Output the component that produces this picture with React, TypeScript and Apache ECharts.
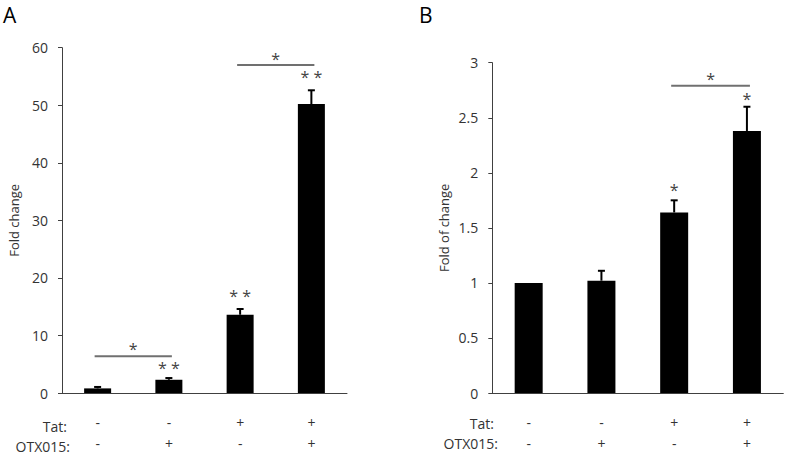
import React, { useEffect, useRef } from "react";
import * as echarts from "echarts";

// Panel A data
const tatSigns = ["-", "-", "+", "+"];
const otxSigns = ["-", "+", "-", "+"];
const categories = ["Ctrl", "OTX015", "Tat", "Tat+OTX015"];
const valuesA = [0.8, 2.3, 13.6, 50.2];
const errorsA = [0.25, 0.3, 1.0, 2.4];
const yTicksA = { min: 0, max: 60, interval: 10 };

// Panel B data
const valuesB = [1.0, 1.02, 1.64, 2.38];
const errorsB = [0, 0.09, 0.11, 0.22];
const yTicksB = { min: 0, max: 3, interval: 0.5 };

// significance annotations (in data units)
const sigBarsA = [
  { from: 0, to: 1, y: 6.4, label: "*", labelY: 8.1 },
  { from: 2, to: 3, y: 57.0, label: "*", labelY: 58.6 },
];
const starsA = [
  { cat: 1, y: 4.8, label: "* *" },
  { cat: 2, y: 17.3, label: "* *" },
  { cat: 3, y: 55.5, label: "* *" },
];
const sigBarsB = [{ from: 2, to: 3, y: 2.79, label: "*", labelY: 2.875 }];
const starsB = [
  { cat: 2, y: 1.87, label: "*" },
  { cat: 3, y: 2.7, label: "*" },
];

const FONT = "'Open Sans', 'DejaVu Sans', sans-serif";
const TXT = "#333";

function errSeries(idx: number, vals: number[], errs: number[]) {
  return {
    type: "custom",
    xAxisIndex: idx,
    yAxisIndex: idx,
    silent: true,
    data: vals.map((v, i) => [i, v, errs[i]]),
    renderItem: (params: any, api: any) => {
      const x = api.value(0);
      const v = api.value(1);
      const e = api.value(2);
      if (!e) return { type: "group", children: [] };
      const p0 = api.coord([x, v]);
      const p1 = api.coord([x, v + e]);
      return {
        type: "group",
        children: [
          {
            type: "line",
            shape: { x1: p0[0], y1: p0[1], x2: p1[0], y2: p1[1] },
            style: { stroke: "#000", lineWidth: 2 },
          },
          {
            type: "line",
            shape: { x1: p1[0] - 3.5, y1: p1[1], x2: p1[0] + 3.5, y2: p1[1] },
            style: { stroke: "#000", lineWidth: 2 },
          },
        ],
      };
    },
  };
}

function starText(x: number, y: number, text: string) {
  return {
    type: "text",
    x,
    y: y + 3,
    style: {
      text,
      fill: "#444",
      font: `16px ${FONT}`,
      textAlign: "center",
      textVerticalAlign: "middle",
    },
  };
}

function sigSeries(idx: number, bars: any[], stars: any[]) {
  const items = [
    ...bars.map((b) => ({ kind: "bar", ...b })),
    ...stars.map((s) => ({ kind: "star", ...s })),
  ];
  return {
    type: "custom",
    xAxisIndex: idx,
    yAxisIndex: idx,
    silent: true,
    data: items.map((_, i) => [i]),
    renderItem: (params: any, api: any) => {
      const it = items[params.dataIndex];
      if (it.kind === "bar") {
        const a = api.coord([it.from, it.y]);
        const b = api.coord([it.to, it.y]);
        const la = api.coord([it.from, it.labelY]);
        const lb = api.coord([it.to, it.labelY]);
        return {
          type: "group",
          children: [
            {
              type: "line",
              shape: { x1: a[0] - 3, y1: a[1], x2: b[0] + 3, y2: b[1] },
              style: { stroke: "#707070", lineWidth: 2 },
            },
            starText((la[0] + lb[0]) / 2, la[1], it.label),
          ],
        };
      }
      const p = api.coord([it.cat, it.y]);
      return starText(p[0], p[1], it.label);
    },
  };
}

function yAxis(idx: number, ticks: any, name: string) {
  return {
    type: "value",
    gridIndex: idx,
    min: ticks.min,
    max: ticks.max,
    interval: ticks.interval,
    name,
    nameLocation: "middle",
    nameGap: 42,
    nameTextStyle: { color: TXT, fontSize: 13, fontFamily: FONT },
    axisLine: { show: true, lineStyle: { color: "#404040", width: 1 } },
    axisTick: { show: true, length: 4, lineStyle: { color: "#404040" } },
    axisLabel: { color: TXT, fontSize: 14, fontFamily: FONT, margin: 14 },
    splitLine: { show: false },
  };
}

function xAxis(idx: number) {
  return {
    type: "category",
    gridIndex: idx,
    data: categories,
    axisLine: { show: true, lineStyle: { color: "#404040", width: 1 } },
    axisTick: { show: false },
    axisLabel: {
      color: TXT,
      fontSize: 14,
      fontFamily: FONT,
      lineHeight: 21,
      margin: 19,
      formatter: (_: string, i: number) => `${tatSigns[i]}\n${otxSigns[i]}`,
    },
  };
}

export default function App() {
  const ref = useRef<HTMLDivElement>(null);
  useEffect(() => {
    if (!ref.current) return;
    const chart = echarts.init(ref.current, null, { renderer: "svg" });
    const rowText = (x: number, y: number, text: string) => ({
      type: "text",
      x,
      y,
      style: {
        text,
        fill: TXT,
        font: `14px ${FONT}`,
        textAlign: "right",
        textVerticalAlign: "middle",
      },
    });
    chart.setOption({
      animation: false,
      backgroundColor: "#fff",
      grid: [
        { left: 62, top: 47.7, width: 285, height: 350.3 },
        { left: 492.3, top: 62.7, width: 291, height: 334 },
      ],
      xAxis: [xAxis(0), xAxis(1)],
      yAxis: [yAxis(0, yTicksA, "Fold change"), yAxis(1, yTicksB, "Fold of change")],
      series: [
        {
          type: "bar",
          xAxisIndex: 0,
          yAxisIndex: 0,
          data: valuesA,
          barWidth: 27,
          itemStyle: { color: "#000" },
        },
        errSeries(0, valuesA, errorsA),
        sigSeries(0, sigBarsA, starsA),
        {
          type: "bar",
          xAxisIndex: 1,
          yAxisIndex: 1,
          data: valuesB,
          barWidth: 28,
          itemStyle: { color: "#000" },
        },
        errSeries(1, valuesB, errorsB),
        sigSeries(1, sigBarsB, starsB),
      ],
      graphic: [
        {
          type: "text",
          left: 3,
          top: 4,
          style: { text: "A", fill: "#000", font: `21px ${FONT}` },
        },
        {
          type: "text",
          left: 419,
          top: 4,
          style: { text: "B", fill: "#000", font: `21px ${FONT}` },
        },
        rowText(67, 426, "Tat:"),
        rowText(70, 446, "OTX015:"),
        rowText(494, 423, "Tat:"),
        rowText(498, 443, "OTX015:"),
      ],
    });
    return () => chart.dispose();
  }, []);
  return (
    <div
      ref={ref}
      style={{ position: "fixed", left: 0, top: 0, width: 787, height: 454 }}
    />
  );
}
